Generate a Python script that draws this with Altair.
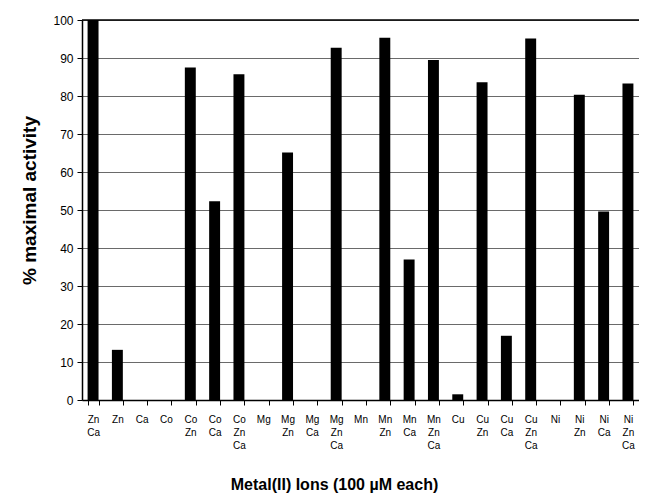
import altair as alt
import pandas as pd

categories = ["Zn Ca", "Zn", "Ca", "Co", "Co Zn", "Co Ca", "Co Zn Ca",
              "Mg", "Mg Zn", "Mg Ca", "Mg Zn Ca", "Mn", "Mn Zn", "Mn Ca", "Mn Zn Ca",
              "Cu", "Cu Zn", "Cu Ca", "Cu Zn Ca", "Ni", "Ni Zn", "Ni Ca", "Ni Zn Ca"]
values = [100, 13.2, 0, 0, 87.5, 52.3, 85.7,
          0, 65.1, 0, 92.7, 0, 95.3, 37.0, 89.5,
          1.5, 83.6, 16.9, 95.1, 0, 80.3, 49.6, 83.3]
y_ticks = list(range(0, 101, 10))
top_line = [100]

df = pd.DataFrame({"ion": categories, "activity": values})
df_top = pd.DataFrame({"activity": top_line})

y_axis = alt.Axis(title="% maximal activity", values=y_ticks,
                  labelFont="Liberation Sans", labelFontSize=12,
                  labelColor="black", labelPadding=4,
                  tickSize=5, tickColor="black",
                  domainColor="black", domainWidth=1.5,
                  titleFont="Liberation Sans", titleFontSize=19,
                  titleFontWeight="bold", titleColor="black",
                  titlePadding=13, titleY=180,
                  grid=True, gridColor="#6a6a6a", gridWidth=1)
y_scale = alt.Scale(domain=[0, 100], nice=False)

bars = alt.Chart(df).mark_bar(color="black").encode(
    x=alt.X("ion:N", sort=categories,
            scale=alt.Scale(paddingInner=0.55, paddingOuter=0.23),
            axis=alt.Axis(title="Metal(II) Ions (100 \u00b5M each)",
                          labelAngle=0, labelExpr="split(datum.label, ' ')",
                          labelFont="Liberation Sans", labelFontSize=10,
                          labelColor="black", labelLineHeight=13,
                          labelBaseline="top", labelPadding=9,
                          tickBand="extent", tickSize=5, tickColor="black",
                          domainColor="black", domainWidth=1.5,
                          titleFont="Liberation Sans", titleFontSize=16,
                          titleFontWeight="bold", titleColor="black",
                          titlePadding=26, titleX=252, grid=False)),
    y=alt.Y("activity:Q", scale=y_scale, axis=y_axis),
)

top_rule = alt.Chart(df_top).mark_rule(color="black", strokeWidth=1.5).encode(
    y=alt.Y("activity:Q", scale=y_scale, axis=y_axis)
)

chart = alt.layer(bars, top_rule).properties(
    width=557, height=380,
    padding={"left": 74, "top": 12, "right": 0, "bottom": 96},
    autosize=alt.AutoSizeParams(type="none"),
).configure_view(stroke=None)

chart.save("out.html", embed_options={"renderer": "svg", "actions": False})
